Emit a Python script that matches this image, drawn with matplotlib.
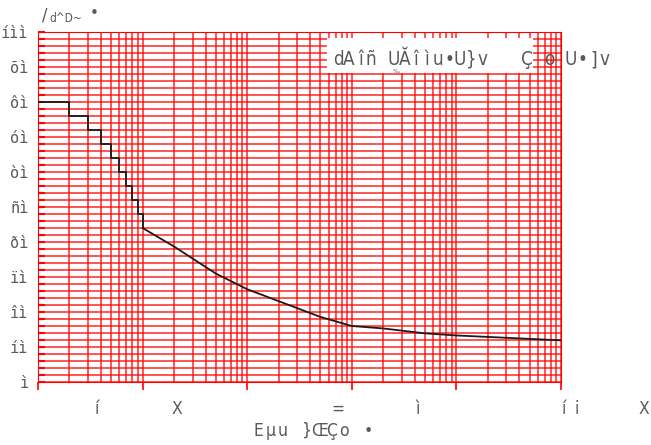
import matplotlib
matplotlib.use('Agg')
import matplotlib.pyplot as plt
from matplotlib.ticker import MultipleLocator, LogLocator, NullFormatter
from matplotlib.patches import Rectangle

# values
step_n = [1, 2, 3, 4, 5, 6, 7, 8, 9, 10]
step_val = [80, 76, 72, 68, 64, 60, 56, 52, 48, 44]
curve_n = [10, 20, 50, 100, 200, 500, 1000, 2000, 5000, 10000, 100000]
curve_val = [44, 38.7, 31.0, 26.5, 23.1, 18.6, 16.0, 15.3, 13.9, 13.3, 11.9]

y_ticks = list(range(0, 101, 10))
y_tick_labels = ['ì', 'íì', 'îì', 'ïì', 'ðì', 'ñì', 'òì', 'óì', 'ôì', 'õì', 'íìì']
# text exactly as it shows up in the source picture
x_tick_text = [('í', 97), ('X', 177), ('=', 338), ('ì', 418), ('í', 564), ('i', 577), ('X', 644)]
legend_text = 'dAîñ UĂîìu•U}v   Ç o U•]v'
x_title = 'Eµu }ŒÇo •'

W, H = 651, 445
GREY = '#595959'

fig = plt.figure(figsize=(W / 100, H / 100), dpi=100)
ax = fig.add_axes([38 / W, 1 - 382 / H, 523 / W, 350 / H])


def spaced(s, x0, y0, step, size, va='baseline'):
    # source text has very wide glyph advance, so place char by char
    for i, ch in enumerate(s):
        if ch != ' ':
            fig.text((x0 + i * step) / W, 1 - y0 / H, ch, ha='center', va=va,
                     fontsize=size, color=GREY, family='DejaVu Sans',
                     fontstretch='condensed', zorder=5)


ax.step(step_n, step_val, where='post', color='#1a1a1a', lw=1.3, zorder=3)
ax.plot(curve_n, curve_val, color='#1a1a1a', lw=1.3, zorder=3)

ax.set_xscale('log')
ax.set_xlim(1, 1e5)
ax.set_ylim(0, 100)
ax.xaxis.set_minor_locator(LogLocator(subs=range(2, 10)))
ax.xaxis.set_minor_formatter(NullFormatter())
ax.set_xticklabels([])
ax.yaxis.set_minor_locator(MultipleLocator(2))
ax.set_yticks(y_ticks)
ax.set_yticklabels(y_tick_labels, family='DejaVu Sans Mono', fontsize=11, color=GREY)

ax.grid(which='both', color='red', lw=1.1, alpha=0.85, zorder=1)
ax.set_axisbelow(True)
for sp in ax.spines.values():
    sp.set_color('red')
ax.tick_params(axis='y', which='both', direction='in', length=5, width=1.5,
               color='red', pad=7)
ax.tick_params(axis='x', which='major', direction='out', length=6, width=1.2, color='red')
ax.tick_params(axis='x', which='minor', length=0)

# legend box (text runs past it)
ax.add_patch(Rectangle((0.553, 0.883), 0.393, 0.1, transform=ax.transAxes,
                       facecolor='white', edgecolor='none', zorder=4))
spaced(legend_text, 338, 65, 11.1, 13.5)
fig.text(396 / W, 1 - 73 / H, '‰', fontsize=4, color=GREY, ha='center', zorder=6)

for ch, x in x_tick_text:
    fig.text(x / W, 1 - 414 / H, ch, ha='center', va='baseline', fontsize=12.5,
             color=GREY, family='DejaVu Sans', fontstretch='condensed')
spaced(x_title, 258, 436, 12.3, 12.5)

# y title, top left
fig.text(45 / W, 1 - 20 / H, '/', fontsize=13, color=GREY, ha='center',
         family='DejaVu Sans', fontstretch='condensed')
fig.text(49 / W, 1 - 22 / H, 'd^D~', fontsize=8.5, color=GREY,
         family='DejaVu Sans', fontstretch='condensed')
fig.text(94 / W, 1 - 13 / H, '•', fontsize=11, color=GREY, ha='center', va='center')

fig.savefig('out.png', dpi=100)
